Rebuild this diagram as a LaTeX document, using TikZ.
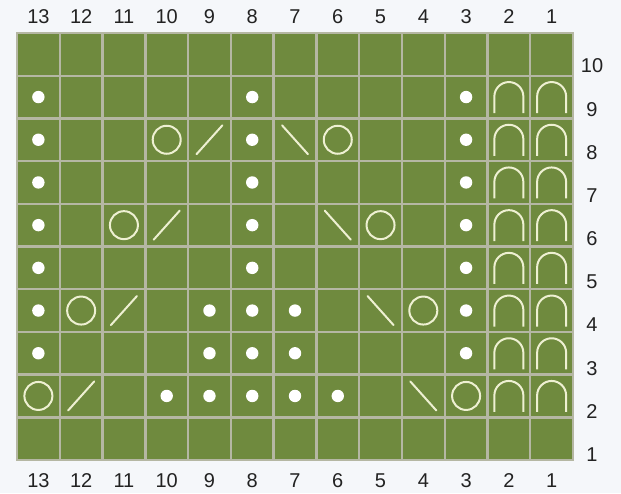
\documentclass[tikz,border=0pt]{standalone}
\usepackage{fontspec}
\setmainfont{Liberation Sans}
\definecolor{bg}{HTML}{F5F7FA}
\definecolor{knit}{HTML}{6F8A3E}
\definecolor{gridc}{HTML}{B5B7A3}
\definecolor{sym}{HTML}{EEF0D2}
\definecolor{txt}{HTML}{222222}
\begin{document}
\begin{tikzpicture}[x=1pt,y=-1pt,
  lbl/.style={font=\fontsize{20}{24}\selectfont, text=txt, inner sep=0pt},
  gline/.style={draw=gridc, line width=2.4pt},
  symline/.style={draw=sym, line width=2pt, line cap=round},
  dotsym/.style={fill=white}]
\fill[bg] (0,0) rectangle (621,493);
\useasboundingbox (0,0) rectangle (621,493);
\def\cw{42.77}
\def\ch{42.7}
\fill[knit] (17,33) rectangle (573,460);
% symbols
\foreach \c/\r in {13/9,8/9,3/9,13/8,8/8,3/8,13/7,8/7,3/7,13/6,8/6,3/6,13/5,8/5,3/5,
  13/4,9/4,8/4,7/4,3/4,13/3,9/3,8/3,7/3,3/3,10/2,9/2,8/2,7/2,6/2}
  \fill[dotsym] ({17+(13.5-\c)*\cw},{33+(10.5-\r)*\ch}) circle (6.2);
\foreach \c/\r in {10/8,6/8,11/6,5/6,12/4,4/4,13/2,3/2}
  \draw[symline] ({17+(13.5-\c)*\cw},{33+(10.5-\r)*\ch}) circle (14);
\foreach \c/\r in {9/8,10/6,11/4,12/2}
  \draw[symline] ({17+(13.5-\c)*\cw-13},{33+(10.5-\r)*\ch+14.5}) -- ++(26,-29);
\foreach \c/\r in {7/8,6/6,5/4,4/2}
  \draw[symline] ({17+(13.5-\c)*\cw-13},{33+(10.5-\r)*\ch-14.5}) -- ++(26,29);
\foreach \c in {1,2}
  \foreach \r in {2,...,9}
    \draw[symline, line cap=butt] ({17+(13.5-\c)*\cw-14.5},{33+(10.5-\r)*\ch+16}) -- ++(0,-16.5)
      arc[start angle=180, end angle=360, radius=14.5] -- ++(0,16.5);
% grid
\foreach \i in {1,...,12}
  \draw[gline] ({17+\i*\cw},33) -- ({17+\i*\cw},460);
\foreach \j in {1,...,9}
  \draw[gline] (17,{33+\j*\ch}) -- (573,{33+\j*\ch});
\draw[gline] (17,33) rectangle (573,460);
% labels
\foreach \c in {1,...,13} {
  \node[lbl] (top\c) at ({17+(13.5-\c)*\cw},17) {\c};
  \node[lbl] (bot\c) at ({17+(13.5-\c)*\cw},480.5) {\c};
}
\foreach \r in {1,...,10}
  \node[lbl] (row\r) at (592,{66+(10-\r)*43.17}) {\r};
\end{tikzpicture}
\end{document}
